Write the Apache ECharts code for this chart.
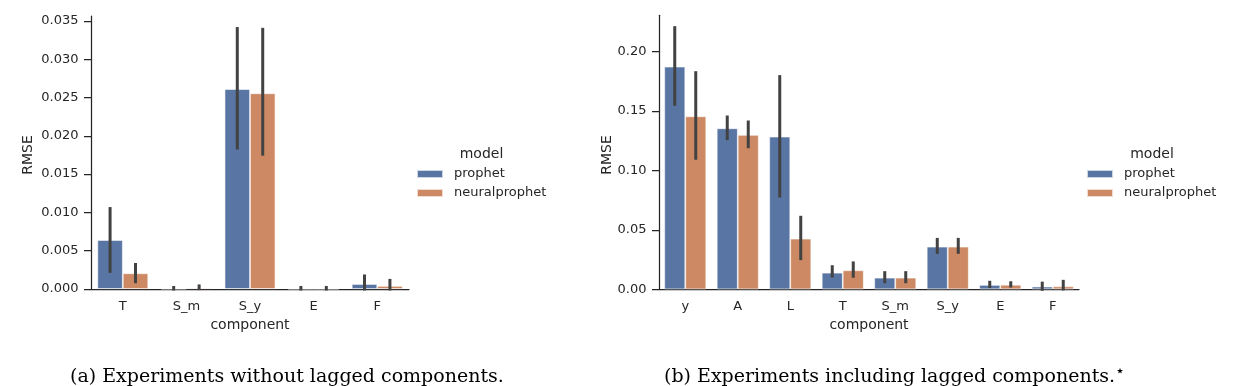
<!DOCTYPE html>
<html>
<head>
<meta charset="utf-8">
<script src="https://cdn.jsdelivr.net/npm/echarts@6/dist/echarts.min.js"></script>
<style>
html,body{margin:0;padding:0;background:#fff;}
#chart{width:1244px;height:386px;}
</style>
</head>
<body>
<div id="chart"></div>
<script>
// ---- Data: (a) without lagged components ----
const catsA = ['T', 'S_m', 'S_y', 'E', 'F'];
const prophetA = [0.0064, 0.00003, 0.0261, 0.00002, 0.00065];
const prophetALow = [0.0023, 0.0, 0.0184, 0.0, 0.0];
const prophetAHigh = [0.0105, 0.0002, 0.0340, 0.0002, 0.0017];
const neuralA = [0.00205, 0.00015, 0.02555, 0.00002, 0.0004];
const neuralALow = [0.00095, 0.00005, 0.0176, 0.0, 0.0];
const neuralAHigh = [0.0032, 0.0004, 0.0339, 0.0002, 0.00112];
const ticksA = [0, 0.005, 0.010, 0.015, 0.020, 0.025, 0.030, 0.035];

// ---- Data: (b) including lagged components ----
const catsB = ['y', 'A', 'L', 'T', 'S_m', 'S_y', 'E', 'F'];
const prophetB = [0.1874, 0.1355, 0.1285, 0.0140, 0.0098, 0.0359, 0.0037, 0.0023];
const prophetBLow = [0.1557, 0.1268, 0.0785, 0.0112, 0.0064, 0.0311, 0.0023, 0.0000];
const prophetBHigh = [0.2202, 0.1450, 0.1790, 0.0190, 0.0140, 0.0420, 0.0059, 0.0052];
const neuralB = [0.1456, 0.1299, 0.0426, 0.0160, 0.0098, 0.0359, 0.0038, 0.0025];
const neuralBLow = [0.1103, 0.1200, 0.0258, 0.0110, 0.0064, 0.0311, 0.0028, 0.0003];
const neuralBHigh = [0.1823, 0.1408, 0.0606, 0.0222, 0.0140, 0.0420, 0.0055, 0.0067];
const ticksB = [0, 0.05, 0.10, 0.15, 0.20];

const seriesNames = ['prophet', 'neuralprophet'];
const captionA = '(a) Experiments without lagged components.';
const captionB = '(b) Experiments including lagged components.';

const BLUE = '#5975a4';
const ORANGE = '#cc8963';
const DARK = '#262626';
const ERR = '#424242';
const FONT = '"DejaVu Sans", sans-serif';

function errData(low, high) {
  return low.map((l, i) => [i, l, high[i]]);
}
function errSeries(xi, low, high, offset) {
  return {
    type: 'custom', xAxisIndex: xi, yAxisIndex: xi, z: 5, silent: true,
    data: errData(low, high),
    renderItem: function (params, api) {
      const c = api.value(0);
      const p1 = api.coord([c, api.value(1)]);
      const p2 = api.coord([c, api.value(2)]);
      const band = api.size([1, 0])[0];
      const x = p1[0] + offset * band;
      return {
        type: 'line',
        shape: { x1: x, y1: p1[1], x2: x, y2: p2[1] },
        style: { stroke: ERR, lineWidth: 3, lineCap: 'square' }
      };
    }
  };
}
function barSeries(name, xi, data, color) {
  return {
    name: name, type: 'bar', xAxisIndex: xi, yAxisIndex: xi, data: data,
    barGap: '0%', barCategoryGap: '20%',
    itemStyle: { color: color, borderColor: 'rgba(255,255,255,0.7)', borderWidth: 0.8 },
    silent: true
  };
}
function xAxis(gi, cats) {
  return {
    type: 'category', gridIndex: gi, data: cats,
    axisLine: { lineStyle: { color: DARK, width: 1.25 } },
    axisTick: { alignWithLabel: true, length: 7, lineStyle: { color: DARK, width: 1.25 } },
    axisLabel: { color: DARK, fontFamily: FONT, fontSize: 13, margin: 11 },
    splitLine: { show: false }
  };
}
function yAxis(gi, max, ticks, dec) {
  return {
    type: 'value', gridIndex: gi, min: 0, max: max,
    axisLine: { show: true, lineStyle: { color: DARK, width: 1.25 } },
    axisTick: { show: true, length: 7, customValues: ticks, lineStyle: { color: DARK, width: 1.25 } },
    axisLabel: { color: DARK, fontFamily: FONT, fontSize: 13, margin: 12.5, customValues: ticks,
      formatter: v => v.toFixed(dec) },
    splitLine: { show: false }
  };
}
function legend(left) {
  return {
    data: seriesNames, orient: 'vertical', left: left, top: 167.5, padding: 0,
    itemWidth: 26, itemHeight: 8, itemGap: 6, icon: 'rect',
    textStyle: { color: DARK, fontFamily: FONT, fontSize: 13, lineHeight: 13, padding: [0, 0, 0, 6] },
    selectedMode: false
  };
}
function txt(x, y, text, size, rot, family) {
  return {
    type: 'text', x: x, y: y, rotation: rot || 0, silent: true,
    style: { text: text, fill: DARK, font: size + 'px ' + (family || FONT), align: 'center', verticalAlign: 'middle' }
  };
}

const chart = echarts.init(document.getElementById('chart'), null, { renderer: 'canvas' });
chart.setOption({
  animation: false,
  backgroundColor: '#fff',
  grid: [
    { left: 91, top: 16, width: 318, height: 273 },
    { left: 659, top: 15.3, width: 420, height: 274 }
  ],
  xAxis: [xAxis(0, catsA), xAxis(1, catsB)],
  yAxis: [yAxis(0, 0.03564, ticksA, 3), yAxis(1, 0.2306, ticksB, 2)],
  legend: [legend(416), legend(1086)],
  series: [
    barSeries(seriesNames[0], 0, prophetA, BLUE),
    barSeries(seriesNames[1], 0, neuralA, ORANGE),
    barSeries(seriesNames[0], 1, prophetB, BLUE),
    barSeries(seriesNames[1], 1, neuralB, ORANGE),
    errSeries(0, prophetALow, prophetAHigh, -0.2),
    errSeries(0, neuralALow, neuralAHigh, 0.2),
    errSeries(1, prophetBLow, prophetBHigh, -0.2),
    errSeries(1, neuralBLow, neuralBHigh, 0.2)
  ],
  graphic: [
    txt(28, 155, 'RMSE', 14, Math.PI / 2),
    txt(607, 155, 'RMSE', 14, Math.PI / 2),
    txt(250, 325, 'component', 14),
    txt(869, 325, 'component', 14),
    txt(481.5, 154, 'model', 14),
    txt(1152, 154, 'model', 14),
    {
      type: 'text', x: 70, y: 377, silent: true,
      style: { text: captionA, fill: '#000', font: '19px "DejaVu Serif", serif', verticalAlign: 'middle' }
    },
    {
      type: 'text', x: 664, y: 377, silent: true,
      style: {
        text: '{m|' + captionB + '}{s|⋆}', verticalAlign: 'middle',
        rich: {
          m: { fill: '#000', font: '19px "DejaVu Serif", serif' },
          s: { fill: '#000', font: '16px "DejaVu Sans", sans-serif', padding: [0, 0, 10, 0] }
        }
      }
    }
  ]
});
</script>
</body>
</html>
